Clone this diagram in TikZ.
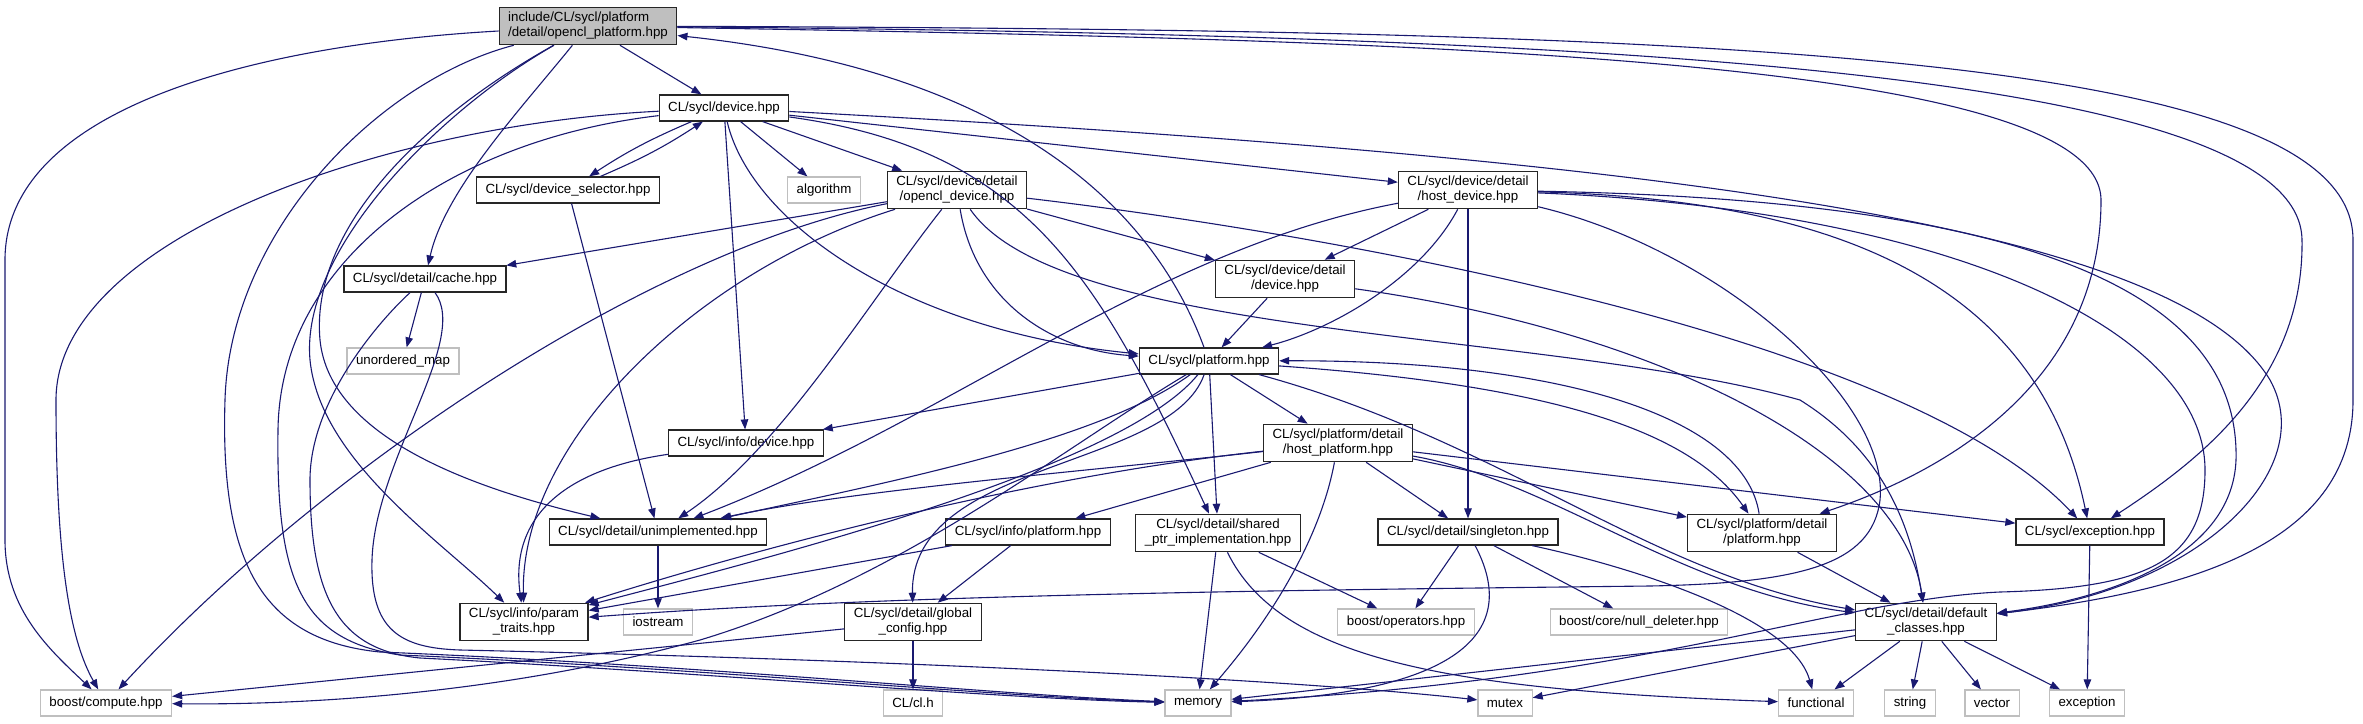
\documentclass[tikz,border=0pt]{standalone}
\usepackage{fontspec}
\setmainfont{Liberation Sans}
\usetikzlibrary{arrows.meta}
\definecolor{midnight}{RGB}{25,25,112}
\definecolor{boxgray}{RGB}{191,191,191}

\begin{document}
\begin{tikzpicture}[
  x=1pt, y=-1pt,
  font=\fontsize{13.3}{15}\selectfont,
  hdr/.style={draw=black!85, line width=1.2pt, fill=white, align=center, inner xsep=9pt, inner ysep=5pt, minimum height=26pt},
  sys/.style={hdr, draw=boxgray},
  topfile/.style={hdr, fill=boxgray, align=left},
  dep/.style={midnight, line width=1.1pt, -{Triangle[length=10pt,width=7.5pt]}}
]
  \useasboundingbox (0,0) rectangle (2363,723);

  % Headers, row by row (pixel grid, y grows downwards)
  \node[topfile] (root) at (588,26) {include/CL/sycl/platform\\/detail/opencl\_platform.hpp};
  \node[hdr] (device) at (724,108) {CL/sycl/device.hpp};
  \node[hdr] (devsel) at (568,190) {CL/sycl/device\_selector.hpp};
  \node[sys] (algorithm) at (824,190) {algorithm};
  \node[hdr] (opencldev) at (957,190) {CL/sycl/device/detail\\/opencl\_device.hpp};
  \node[hdr] (hostdev) at (1468,190) {CL/sycl/device/detail\\/host\_device.hpp};
  \node[hdr] (cache) at (425,279) {CL/sycl/detail/cache.hpp};
  \node[hdr] (detdevice) at (1285,279) {CL/sycl/device/detail\\/device.hpp};
  \node[sys] (unorderedmap) at (403,361) {unordered\_map};
  \node[hdr] (platform) at (1209,361) {CL/sycl/platform.hpp};
  \node[hdr] (infodevice) at (746,443) {CL/sycl/info/device.hpp};
  \node[hdr] (hostplat) at (1338,443) {CL/sycl/platform/detail\\/host\_platform.hpp};
  \node[hdr] (unimpl) at (658,532) {CL/sycl/detail/unimplemented.hpp};
  \node[hdr] (infoplat) at (1028,532) {CL/sycl/info/platform.hpp};
  \node[hdr] (sharedptr) at (1218,533) {CL/sycl/detail/shared\\\_ptr\_implementation.hpp};
  \node[hdr] (singleton) at (1468,532) {CL/sycl/detail/singleton.hpp};
  \node[hdr] (pdplatform) at (1762,533) {CL/sycl/platform/detail\\/platform.hpp};
  \node[hdr] (exchpp) at (2090,532) {CL/sycl/exception.hpp};
  \node[hdr] (param) at (524,622) {CL/sycl/info/param\\\_traits.hpp};
  \node[sys] (iostream) at (658,622) {iostream};
  \node[hdr] (globalconf) at (913,622) {CL/sycl/detail/global\\\_config.hpp};
  \node[sys] (boostops) at (1406,622) {boost/operators.hpp};
  \node[sys] (nulldel) at (1639,622) {boost/core/null\_deleter.hpp};
  \node[hdr] (defclasses) at (1926,622) {CL/sycl/detail/default\\\_classes.hpp};

  % System headers on the bottom row
  \node[sys] (boostcompute) at (106,703) {boost/compute.hpp};
  \node[sys] (clh) at (913,703) {CL/cl.h};
  \node[sys] (memory) at (1198,703) {memory};
  \node[sys] (mutex) at (1505,703) {mutex};
  \node[sys] (functional) at (1816,703) {functional};
  \node[sys] (string) at (1910,703) {string};
  \node[sys] (vector) at (1992,703) {vector};
  \node[sys] (exception) at (2087,703) {exception};

  % opencl_platform.hpp
  \draw[dep] (root) -- (device);
  \draw[dep] (root) .. controls (250,45) and (5,110) .. (5,260) -- (5,540) .. controls (5,610) and (50,650) .. (boostcompute);
  \draw[dep] (root) .. controls (520,110) and (445,190) .. (cache);
  \draw[dep] (root) .. controls (420,120) and (310,230) .. (320,340) .. controls (330,440) and (480,490) .. (unimpl);
  \draw[dep] (root) .. controls (440,110) and (300,250) .. (310,360) .. controls (320,460) and (440,540) .. (param);
  \draw[dep] (root) .. controls (380,80) and (230,230) .. (225,400) .. controls (220,560) and (260,640) .. (380,652) .. controls (700,665) and (1000,695) .. (memory);
  \draw[dep] (root) .. controls (1400,40) and (2100,55) .. (2101,200) .. controls (2101,380) and (1950,470) .. (pdplatform);
  \draw[dep] (root) .. controls (1600,35) and (2300,70) .. (2302,240) .. controls (2304,380) and (2200,460) .. (exchpp);
  \draw[dep] (root) .. controls (1700,30) and (2353,50) .. (2353,240) -- (2353,400) .. controls (2353,540) and (2200,590) .. (defclasses);

  % device.hpp
  \draw[dep] (device) to[bend right=5] (devsel);
  \draw[dep] (devsel) to[bend right=5] (device);
  \draw[dep] (device) -- (algorithm);
  \draw[dep] (device) -- (opencldev);
  \draw[dep] (device) -- (hostdev);
  \draw[dep] (device) .. controls (750,220) and (900,330) .. (platform);
  \draw[dep] (device) -- (infodevice);
  \draw[dep] (device) .. controls (1030,150) and (1100,280) .. (sharedptr);
  \draw[dep] (device) .. controls (1700,160) and (2180,230) .. (2270,380) .. controls (2320,470) and (2200,590) .. (defclasses);
  \draw[dep] (device) .. controls (380,125) and (56,240) .. (56,400) .. controls (56,560) and (70,640) .. (boostcompute);
  \draw[dep] (device) .. controls (450,140) and (280,260) .. (278,430) .. controls (276,580) and (300,640) .. (400,655) .. controls (700,668) and (1000,697) .. (memory);
  \draw[dep] (devsel) -- (unimpl);

  % detail/cache.hpp
  \draw[dep] (cache) -- (unorderedmap);
  \draw[dep] (cache) .. controls (380,320) and (310,400) .. (310,480) .. controls (310,600) and (340,650) .. (420,658) .. controls (700,672) and (1000,699) .. (memory);
  \draw[dep] (cache) .. controls (470,340) and (375,460) .. (372,560) .. controls (370,630) and (400,648) .. (460,650) .. controls (900,660) and (1300,680) .. (mutex);

  % device/detail/opencl_device.hpp
  \draw[dep] (opencldev) -- (cache);
  \draw[dep] (opencldev) .. controls (650,250) and (320,470) .. (boostcompute);
  \draw[dep] (opencldev) .. controls (870,300) and (780,450) .. (unimpl);
  \draw[dep] (opencldev) .. controls (700,270) and (520,440) .. (param);
  \draw[dep] (opencldev) -- (detdevice);
  \draw[dep] (opencldev) .. controls (975,300) and (1050,350) .. (platform);
  \draw[dep] (opencldev) .. controls (1300,230) and (1900,330) .. (exchpp);
  \draw[dep] (opencldev) .. controls (1060,340) and (1550,330) .. (1800,400) .. controls (1880,450) and (1910,520) .. (defclasses);

  % device/detail/host_device.hpp
  \draw[dep] (hostdev) .. controls (1150,250) and (950,420) .. (unimpl);
  \draw[dep] (hostdev) -- (detdevice);
  \draw[dep] (hostdev) .. controls (1420,280) and (1330,330) .. (platform);
  \draw[dep] (hostdev) -- (singleton);
  \draw[dep] (hostdev) .. controls (1850,200) and (2040,290) .. (exchpp);
  \draw[dep] (hostdev) .. controls (2050,200) and (2240,300) .. (2236,460) .. controls (2232,560) and (2100,600) .. (defclasses);
  \draw[dep] (hostdev) .. controls (1950,210) and (2205,330) .. (2205,470) .. controls (2205,560) and (2150,588) .. (2000,592) .. controls (1830,600) and (1650,680) .. (memory);
  \draw[dep] (hostdev) .. controls (1720,250) and (1890,400) .. (1880,500) .. controls (1872,565) and (1800,583) .. (1650,586) .. controls (1300,590) and (900,594) .. (param);
  \draw[dep] (detdevice) -- (platform);
  \draw[dep] (detdevice) .. controls (1650,330) and (1900,450) .. (defclasses);

  % platform.hpp
  \draw[dep] (platform) .. controls (1150,200) and (1000,70) .. (root);
  \draw[dep] (platform) -- (infodevice);
  \draw[dep] (platform) -- (hostplat);
  \draw[dep] (platform) -- (sharedptr);
  \draw[dep] (platform) .. controls (1100,440) and (900,480) .. (unimpl);
  \draw[dep] (platform) .. controls (1120,470) and (760,560) .. (param);
  \draw[dep] (platform) .. controls (1170,470) and (910,460) .. (globalconf);
  \draw[dep] (platform) .. controls (1550,385) and (1690,430) .. (pdplatform);
  \draw[dep] (pdplatform) .. controls (1745,420) and (1570,360) .. (platform);
  \draw[dep] (platform) .. controls (1500,440) and (1650,575) .. (defclasses);
  \draw[dep] (platform) .. controls (1060,450) and (900,580) .. (700,640) .. controls (500,695) and (300,705) .. (boostcompute);

  % platform/detail/host_platform.hpp
  \draw[dep] (hostplat) .. controls (1100,470) and (850,490) .. (unimpl);
  \draw[dep] (hostplat) .. controls (1000,480) and (720,560) .. (param);
  \draw[dep] (hostplat) -- (infoplat);
  \draw[dep] (hostplat) .. controls (1320,540) and (1270,620) .. (memory);
  \draw[dep] (hostplat) -- (singleton);
  \draw[dep] (hostplat) -- (pdplatform);
  \draw[dep] (hostplat) -- (exchpp);
  \draw[dep] (hostplat) .. controls (1550,480) and (1680,590) .. (defclasses);

  % lower headers
  \draw[dep] (infodevice) .. controls (560,470) and (510,520) .. (param);
  \draw[dep] (unimpl) -- (iostream);
  \draw[dep] (infoplat) -- (param);
  \draw[dep] (infoplat) -- (globalconf);
  \draw[dep] (sharedptr) -- (memory);
  \draw[dep] (sharedptr) -- (boostops);
  \draw[dep] (sharedptr) .. controls (1280,660) and (1450,690) .. (functional);
  \draw[dep] (singleton) -- (boostops);
  \draw[dep] (singleton) .. controls (1530,650) and (1420,695) .. (memory);
  \draw[dep] (singleton) -- (nulldel);
  \draw[dep] (singleton) .. controls (1600,560) and (1790,610) .. (functional);
  \draw[dep] (globalconf) -- (boostcompute);
  \draw[dep] (globalconf) -- (clh);
  \draw[dep] (pdplatform) -- (defclasses);
  \draw[dep] (exchpp) -- (exception);
  \draw[dep] (defclasses) -- (functional);
  \draw[dep] (defclasses) -- (string);
  \draw[dep] (defclasses) -- (vector);
  \draw[dep] (defclasses) -- (exception);
  \draw[dep] (defclasses) -- (memory);
  \draw[dep] (defclasses) -- (mutex);

\end{tikzpicture}
\end{document}
